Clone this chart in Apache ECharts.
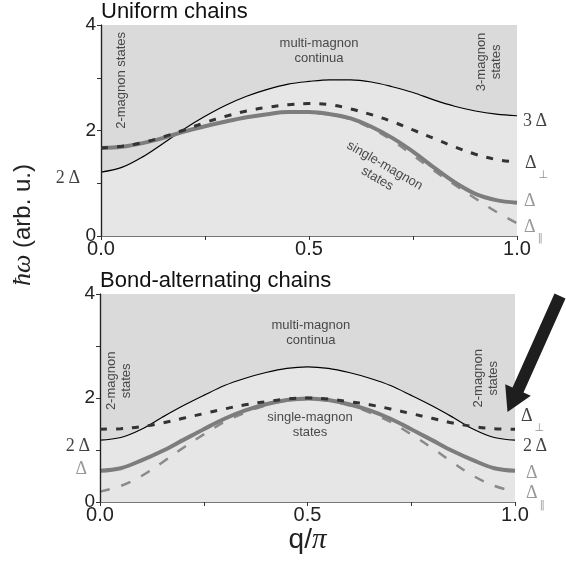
<!DOCTYPE html>
<html>
<head>
<meta charset="utf-8">
<script src="https://cdn.jsdelivr.net/npm/echarts@6/dist/echarts.min.js"></script>
<style>
  html, body { margin: 0; padding: 0; background: #fff; }
  #chart { width: 566px; height: 562px; }
</style>
</head>
<body>
<div id="chart"></div>
<script>
// q/π 取样点
const qValues = [0, 0.05, 0.1, 0.15, 0.2, 0.25, 0.3, 0.35, 0.4, 0.45, 0.5,
  0.55, 0.6, 0.65, 0.7, 0.75, 0.8, 0.85, 0.9, 0.95, 1.0];

// 上图：均匀链
const uniformContinuum = [1.21, 1.30, 1.50, 1.76, 2.03, 2.27, 2.48, 2.65, 2.78, 2.88, 2.93,
  2.96, 2.96, 2.92, 2.83, 2.72, 2.58, 2.46, 2.37, 2.31, 2.28];
const uniformDelta = [1.67, 1.69, 1.76, 1.86, 1.98, 2.08, 2.17, 2.25, 2.31, 2.35, 2.35,
  2.31, 2.23, 2.07, 1.86, 1.60, 1.30, 1.02, 0.80, 0.68, 0.63];
const uniformDeltaPar = [1.67, 1.69, 1.76, 1.86, 1.98, 2.08, 2.17, 2.25, 2.31, 2.35, 2.34,
  2.30, 2.21, 2.04, 1.81, 1.53, 1.24, 0.97, 0.71, 0.46, 0.24];
const uniformDeltaPerp = [1.67, 1.70, 1.77, 1.88, 2.01, 2.15, 2.27, 2.37, 2.44, 2.49, 2.51,
  2.49, 2.41, 2.30, 2.17, 2.01, 1.85, 1.69, 1.55, 1.45, 1.40];

// 下图：键交替链
const bondContinuum = [1.19, 1.24, 1.40, 1.63, 1.85, 2.05, 2.24, 2.38, 2.49, 2.57, 2.60,
  2.57, 2.49, 2.38, 2.24, 2.05, 1.85, 1.63, 1.40, 1.24, 1.19];
const bondDelta = [0.60, 0.65, 0.80, 0.98, 1.19, 1.40, 1.60, 1.76, 1.88, 1.96, 1.99,
  1.96, 1.88, 1.76, 1.60, 1.40, 1.19, 0.98, 0.80, 0.65, 0.60];
const bondDeltaPar = [0.20, 0.31, 0.50, 0.76, 1.04, 1.30, 1.54, 1.72, 1.86, 1.95, 1.98,
  1.95, 1.86, 1.72, 1.54, 1.30, 1.04, 0.76, 0.50, 0.31, 0.20];
const bondDeltaPerp = [1.40, 1.41, 1.45, 1.52, 1.61, 1.70, 1.79, 1.87, 1.93, 1.98, 2.00,
  1.98, 1.93, 1.87, 1.79, 1.70, 1.61, 1.52, 1.45, 1.41, 1.40];

// 刻度标签
const xTicks = [0, 0.5, 1.0];
const xTickLabels = ['0.0', '0.5', '1.0'];
const yTicks = [0, 2, 4];
const yTickLabels = ['0', '2', '4'];

const panelTitles = ['Uniform chains', 'Bond-alternating chains'];

// 能级标注（数据坐标）
const uniformLevelNotes = [
  { q: 1, v: 2.18, text: '3\u2009Δ', side: 'right', gap: 6, tone: 'dark' },
  { q: 1, v: 1.37, text: '{d|Δ}{s|⊥}', side: 'right', gap: 8, tone: 'dark' },
  { q: 1, v: 0.66, text: 'Δ', side: 'right', gap: 7, tone: 'gray' },
  { q: 1, v: 0.17, text: '{d|Δ}{s|\u2016}', side: 'right', gap: 7, tone: 'gray' },
  { q: 0, v: 1.10, text: '2\u2009Δ', side: 'left', gap: 21, tone: 'dark' }
];
const bondLevelNotes = [
  { q: 1, v: 1.65, text: '{d|Δ}{s|⊥}', side: 'right', gap: 6, tone: 'dark' },
  { q: 1, v: 1.08, text: '2\u2009Δ', side: 'right', gap: 8, tone: 'dark' },
  { q: 1, v: 0.56, text: 'Δ', side: 'right', gap: 11, tone: 'gray' },
  { q: 1, v: 0.16, text: '{d|Δ}{s|\u2016}', side: 'right', gap: 11, tone: 'gray' },
  { q: 0, v: 1.08, text: '2\u2009Δ', side: 'left', gap: 10, tone: 'dark' },
  { q: 0, v: 0.63, text: 'Δ', side: 'left', gap: 13, tone: 'gray' }
];

// 区域文字
const uniformRegionNotes = [
  { q: 0.524, v: 3.51, text: 'multi-magnon\ncontinua', rotate: 0 },
  { q: 0.049, v: 2.95, text: '2-magnon states', rotate: 90 },
  { q: 0.933, v: 3.30, text: '3-magnon\nstates', rotate: 90 },
  { q: 0.673, v: 1.21, text: 'single-magnon\nstates', rotate: -30 }
];
const bondRegionNotes = [
  { q: 0.508, v: 3.25, text: 'multi-magnon\ncontinua', rotate: 0 },
  { q: 0.046, v: 2.33, text: '2-magnon\nstates', rotate: 90 },
  { q: 0.930, v: 2.38, text: '2-magnon\nstates', rotate: 90 },
  { q: 0.506, v: 1.48, text: 'single-magnon\nstates', rotate: 0 }
];

const sans = "'Liberation Sans', Arial, sans-serif";
const serif = "'Liberation Serif', 'Times New Roman', serif";

const pairs = (vals) => vals.map((v, i) => [qValues[i], v]);

const pickLabel = (ticks, labels) => (value) => {
  const i = ticks.findIndex(t => Math.abs(t - value) < 1e-6);
  return i >= 0 ? labels[i] : '';
};

const grids = [
  { left: 101, top: 25, width: 416, height: 211 },
  { left: 100, top: 294, width: 415, height: 208 }
];

const xAxes = [];
const yAxes = [];
grids.forEach((g, idx) => {
  xAxes.push({
    type: 'value', gridIndex: idx, min: 0, max: 1, interval: 0.25, z: 5,
    axisLine: { lineStyle: { color: '#333', width: 1.2 } },
    axisTick: { length: 4, lineStyle: { color: '#333' } },
    axisLabel: {
      formatter: pickLabel(xTicks, xTickLabels), fontSize: 20, fontFamily: sans,
      color: '#222', margin: 3
    },
    splitLine: { show: false },
    name: idx === 1 ? '{a|q/}{b|π}' : '',
    nameLocation: 'middle',
    nameGap: 9,
    nameTextStyle: {
      rich: {
        a: { fontSize: 28, fontFamily: sans, color: '#222' },
        b: { fontSize: 29, fontFamily: serif, fontStyle: 'italic', color: '#222' }
      }
    }
  });
  // 上边框
  xAxes.push({
    type: 'value', gridIndex: idx, min: 0, max: 1, position: 'top', z: 5,
    axisLine: { lineStyle: { color: '#777', width: 1 } },
    axisTick: { show: false }, axisLabel: { show: false }, splitLine: { show: false }
  });
  yAxes.push({
    type: 'value', gridIndex: idx, min: 0, max: 4, interval: 1, z: 5,
    axisLine: { lineStyle: { color: '#333', width: 1.2 } },
    axisTick: { length: 4, lineStyle: { color: '#333' } },
    axisLabel: {
      formatter: pickLabel(yTicks, yTickLabels), fontSize: 19, fontFamily: sans,
      color: '#222', margin: 5
    },
    splitLine: { show: false }
  });
  // 右边框
  yAxes.push({
    type: 'value', gridIndex: idx, min: 0, max: 4, position: 'right', z: 5,
    axisLine: { lineStyle: { color: '#222', width: 1.2 } },
    axisTick: { show: false }, axisLabel: { show: false }, splitLine: { show: false }
  });
});

// 曲线
const curveSeries = (idx, continuum, delta, deltaPar, deltaPerp) => {
  const axes = { xAxisIndex: idx * 2, yAxisIndex: idx * 2 };
  return [
    {
      name: 'continuum', type: 'line', ...axes, data: pairs(continuum),
      smooth: 0.35, symbol: 'none', silent: true, z: 2,
      lineStyle: { color: '#000', width: 1.2 },
      areaStyle: { origin: 'end', color: '#dadada', opacity: 1 }
    },
    {
      name: 'Δ∥', type: 'line', ...axes, data: pairs(deltaPar),
      smooth: 0.35, symbol: 'none', silent: true, z: 3,
      lineStyle: { color: '#8a8a8a', width: 2.5, type: [10, 12] }
    },
    {
      name: 'Δ', type: 'line', ...axes, data: pairs(delta),
      smooth: 0.35, symbol: 'none', silent: true, z: 4,
      lineStyle: { color: '#7d7d7d', width: 4 }
    },
    {
      name: 'Δ⊥', type: 'line', ...axes, data: pairs(deltaPerp),
      smooth: 0.35, symbol: 'none', silent: true, z: 5,
      lineStyle: { color: '#333', width: 3, type: [7, 9] }
    }
  ];
};

// 文字标注
const levelSeries = (idx, notes) => ({
  type: 'scatter', xAxisIndex: idx * 2, yAxisIndex: idx * 2,
  symbolSize: 0, silent: true, clip: false, z: 10,
  data: notes.map(n => ({
    value: [n.q, n.v],
    label: {
      show: true, position: n.side, distance: n.gap,
      formatter: n.text,
      fontSize: 18, fontFamily: serif,
      color: n.tone === 'gray' ? '#808080' : '#111',
      rich: {
        d: { fontSize: 18, fontFamily: serif, lineHeight: 34,
          color: n.tone === 'gray' ? '#808080' : '#111' },
        s: { fontSize: 11, fontFamily: 'DejaVu Sans', lineHeight: 12, verticalAlign: 'bottom',
          color: n.tone === 'gray' ? '#909090' : '#777', padding: [0, 0, 0, 2] }
      }
    }
  }))
});

const regionSeries = (idx, notes) => ({
  type: 'scatter', xAxisIndex: idx * 2, yAxisIndex: idx * 2,
  symbolSize: 0, silent: true, clip: false, z: 10,
  data: notes.map(n => ({
    value: [n.q, n.v],
    label: {
      show: true, position: 'inside', formatter: n.text, rotate: n.rotate,
      align: 'center', verticalAlign: 'middle',
      fontSize: 13, lineHeight: 15, fontFamily: sans, color: '#222'
    }
  }))
});

const chart = echarts.init(document.getElementById('chart'));

const option = {
  animation: false,
  backgroundColor: '#fff',
  title: panelTitles.map((t, i) => ({
    text: t, left: grids[i].left, top: i === 0 ? 1 : 270, padding: 0,
    textStyle: { fontSize: 22, fontWeight: 'normal', fontFamily: sans, color: '#111' }
  })),
  grid: grids.map(g => ({ ...g, show: true, backgroundColor: '#e6e6e6', borderWidth: 0 })),
  xAxis: xAxes,
  yAxis: yAxes,
  graphic: [
    // 纵轴标题
    {
      type: 'text', x: 23, y: 225, rotation: Math.PI / 2,
      style: {
        text: '{h|ħω} (arb. u.)',
        fontSize: 24, fontFamily: sans, fill: '#222',
        align: 'center', verticalAlign: 'middle',
        rich: {
          h: { fontSize: 26, fontFamily: serif, fontStyle: 'italic', fill: '#222' }
        }
      }
    },
    // 箭头
    {
      type: 'polygon', z: 20,
      shape: {
        points: [[523.5, 392.4], [512.5, 387.6], [505.2, 384.3], [507.5, 412],
          [530.8, 395.7], [523.5, 392.4], [565.5, 298.4], [554.5, 293.6], [512.5, 387.6]]
      },
      style: { fill: '#1e1e1e' }
    }
  ],
  series: [
    ...curveSeries(0, uniformContinuum, uniformDelta, uniformDeltaPar, uniformDeltaPerp),
    ...curveSeries(1, bondContinuum, bondDelta, bondDeltaPar, bondDeltaPerp),
    levelSeries(0, uniformLevelNotes),
    levelSeries(1, bondLevelNotes),
    regionSeries(0, uniformRegionNotes),
    regionSeries(1, bondRegionNotes)
  ]
};

chart.setOption(option);
</script>
</body>
</html>
